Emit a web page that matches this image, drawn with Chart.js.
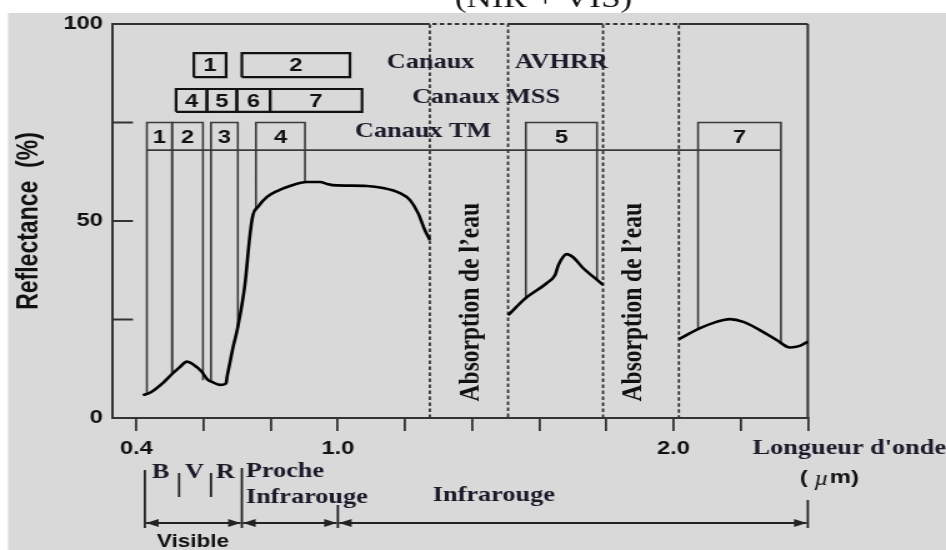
<!DOCTYPE html>
<html>
<head>
<meta charset="utf-8">
<script src="https://cdn.jsdelivr.net/npm/chart.js@4.4.1/dist/chart.umd.min.js"></script>
<style>
  html, body { margin: 0; padding: 0; background: #fff; overflow: hidden; }
  #chart { display: block; }
</style>
</head>
<body>
<!-- la figure d'origine est étirée en largeur : canvas de 757 px affiché sur 946 px -->
<canvas id="chart" width="757" height="550" style="width:946px;height:550px"></canvas>
<script>
// Courbe de réflectance de la végétation, en trois tronçons (coupée par les bandes d'absorption de l'eau)
const lambdaVisPir = [0.419, 0.440, 0.480, 0.505, 0.530, 0.550, 0.569, 0.594, 0.611, 0.629, 0.649, 0.667, 0.670, 0.679, 0.688, 0.700, 0.723, 0.738, 0.747, 0.762, 0.789, 0.819, 0.857, 0.908, 0.947, 0.968, 0.985, 1.087, 1.134, 1.185, 1.215, 1.239, 1.259, 1.274];
const reflVisPir = [5.8, 6.4, 9.0, 11.1, 13.0, 14.3, 13.6, 11.8, 9.8, 9.0, 8.4, 8.8, 10.5, 14.3, 18.1, 22.3, 33.8, 46.4, 51.5, 53.6, 56.1, 57.6, 58.9, 59.9, 59.9, 59.4, 59.1, 58.9, 58.4, 57.1, 55.3, 52.0, 47.7, 45.2];
const lambdaSwir1 = [1.507, 1.562, 1.622, 1.647, 1.657, 1.671, 1.682, 1.701, 1.731, 1.766, 1.790];
const reflSwir1 = [26.1, 30.6, 34.2, 36.3, 38.8, 40.9, 41.6, 40.8, 38.0, 35.5, 33.8];
const lambdaSwir2 = [2.016, 2.079, 2.128, 2.168, 2.208, 2.257, 2.307, 2.347, 2.376, 2.400];
const reflSwir2 = [20.0, 22.8, 24.4, 25.1, 24.4, 22.3, 19.8, 17.9, 18.3, 19.4];

// Canaux TM (les traits verticaux descendent jusqu'a la courbe)
const tmNames = ['1', '2', '3', '4', '5', '7'];
const tmStart = [0.431, 0.506, 0.622, 0.756, 1.560, 2.073];
const tmEnd = [0.506, 0.598, 0.702, 0.902, 1.772, 2.320];
const tmFootStart = [6.1, 11.2, 9.2, 53.0, 30.5, 22.7];
const tmFootEnd = [11.2, 9.6, 23.0, 60.0, 35.3, 19.3];
const tmRange = [68, 75];

// Canaux AVHRR et MSS
const avhrrNames = ['1', '2'];
const avhrrStart = [0.571, 0.714];
const avhrrEnd = [0.667, 1.036];
const avhrrRange = [86.5, 92.6];
const mssNames = ['4', '5', '6', '7'];
const mssStart = [0.518, 0.610, 0.699, 0.798];
const mssEnd = [0.610, 0.699, 0.798, 1.072];
const mssRange = [77.7, 83.5];

// Bandes d'absorption de l'eau
const waterStart = [1.274, 1.790];
const waterEnd = [1.507, 2.016];

// Axes
const xTickValues = [0.4, 0.6, 0.8, 1.0, 1.2, 1.4, 1.6, 1.8, 2.0, 2.2, 2.4];
const xLabelValues = [0.4, 1.0, 2.0];
const xLabelTexts = ['0.4', '1.0', '2.0'];
const yTickValues = [0, 25, 50, 75, 100];
const yLabelValues = [0, 50, 100];
const yLabelTexts = ['0', '50', '100'];
const yInnerTicks = [25, 50, 75];

// Domaines spectraux sous l'axe
const domainLimits = [0.425, 0.714, 1.0, 2.4];
const colourLimits = [0.527, 0.622];

const SERIF = '"Liberation Serif", "Times New Roman", serif';
const SANS = '"Liberation Sans", Arial, sans-serif';
const INK = '#1a1a2a';

function pts(xs, ys) {
  return xs.map((x, i) => ({ x: x, y: ys[i] }));
}
function rect(x0, x1, y0, y1) {
  return [{ x: x0, y: y0 }, { x: x0, y: y1 }, { x: x1, y: y1 }, { x: x1, y: y0 }, { x: x0, y: y0 }];
}
function lineSet(data, color, width, dash) {
  return {
    data: data, showLine: true, borderColor: color, borderWidth: width,
    borderDash: dash || [], pointRadius: 0, fill: false, clip: false
  };
}

const datasets = [];
// courbe (en premier pour qu'elle soit dessinée au-dessus)
[[lambdaVisPir, reflVisPir], [lambdaSwir1, reflSwir1], [lambdaSwir2, reflSwir2]].forEach(s => {
  const d = lineSet(pts(s[0], s[1]), '#000', 2.6);
  d.cubicInterpolationMode = 'monotone';
  datasets.push(d);
});
tmNames.forEach((n, i) => {
  datasets.push(lineSet([
    { x: tmStart[i], y: tmFootStart[i] }, { x: tmStart[i], y: tmRange[1] },
    { x: tmEnd[i], y: tmRange[1] }, { x: tmEnd[i], y: tmFootEnd[i] }
  ], '#3a3a3a', 1.6));
});
datasets.push(lineSet([{ x: tmStart[0], y: tmRange[0] }, { x: tmEnd[tmEnd.length - 1], y: tmRange[0] }], '#3a3a3a', 1.6));
avhrrNames.forEach((n, i) => datasets.push(lineSet(rect(avhrrStart[i], avhrrEnd[i], avhrrRange[0], avhrrRange[1]), '#111', 2.2)));
mssNames.forEach((n, i) => datasets.push(lineSet(rect(mssStart[i], mssEnd[i], mssRange[0], mssRange[1]), '#111', 2.2)));
waterStart.forEach((s, i) => {
  datasets.push(lineSet([{ x: s, y: 0 }, { x: s, y: 100 }, { x: waterEnd[i], y: 100 }, { x: waterEnd[i], y: 0 }], '#333', 1.8, [3.5, 2.5]));
});

function txt(ctx, s, x, y, font, color, align) {
  ctx.font = font;
  ctx.fillStyle = color;
  ctx.textAlign = align || 'left';
  ctx.textBaseline = 'middle';
  ctx.fillText(s, x, y);
}
function head(ctx, x, y, dir) {
  ctx.beginPath();
  ctx.moveTo(x, y);
  ctx.lineTo(x - dir * 10, y - 4);
  ctx.lineTo(x - dir * 10, y + 4);
  ctx.closePath();
  ctx.fill();
}
function seg(ctx, x0, y0, x1, y1) {
  ctx.beginPath();
  ctx.moveTo(x0, y0);
  ctx.lineTo(x1, y1);
  ctx.stroke();
}

const decor = {
  id: 'decor',
  beforeDraw(chart) {
    const ctx = chart.ctx;
    ctx.save();
    ctx.fillStyle = '#fff';
    ctx.fillRect(0, 0, chart.width, chart.height);
    // dénominateur de la formule au-dessus, coupé par le bord de l'image
    ctx.fillStyle = '#111';
    ctx.font = '28px ' + SERIF;
    ctx.textBaseline = 'alphabetic';
    ctx.textAlign = 'left';
    ctx.fillText('(NIR + VIS)', 364, 7);
    ctx.fillStyle = '#d9d9d9';
    ctx.fillRect(6.4, 13, chart.width, chart.height);
    ctx.restore();
  },
  beforeDatasetsDraw(chart) {
    const { ctx, chartArea: a, scales: { x, y } } = chart;
    ctx.save();
    ctx.strokeStyle = '#333';
    ctx.lineWidth = 2;
    // cadre haut (interrompu par les bandes en pointillés) et droit
    let from = a.left;
    waterStart.forEach((s, i) => {
      seg(ctx, from, a.top, x.getPixelForValue(s), a.top);
      from = x.getPixelForValue(waterEnd[i]);
    });
    seg(ctx, from, a.top, a.right, a.top);
    seg(ctx, a.right, a.top, a.right, a.bottom);
    // graduations intérieures de l'axe Y
    yInnerTicks.forEach(v => {
      const py = y.getPixelForValue(v);
      seg(ctx, a.left, py, a.left + 16, py);
    });
    ctx.restore();
  },
  afterDatasetsDraw(chart) {
    const { ctx, scales: { x, y } } = chart;
    const X = v => x.getPixelForValue(v);
    const Y = v => y.getPixelForValue(v);
    ctx.save();

    // numéros des canaux
    const numFont = 'bold 19px ' + SANS;
    tmNames.forEach((n, i) => txt(ctx, n, (X(tmStart[i]) + X(tmEnd[i])) / 2, (Y(tmRange[0]) + Y(tmRange[1])) / 2 + 1, numFont, '#111', 'center'));
    avhrrNames.forEach((n, i) => txt(ctx, n, (X(avhrrStart[i]) + X(avhrrEnd[i])) / 2, (Y(avhrrRange[0]) + Y(avhrrRange[1])) / 2 + 1, numFont, '#111', 'center'));
    mssNames.forEach((n, i) => txt(ctx, n, (X(mssStart[i]) + X(mssEnd[i])) / 2, (Y(mssRange[0]) + Y(mssRange[1])) / 2 + 1, numFont, '#111', 'center'));

    const serifB = 'bold 21px ' + SERIF;
    txt(ctx, 'Canaux', X(1.146), Y(90.1), serifB, INK);
    txt(ctx, 'AVHRR', X(1.5275), Y(90.1), serifB, INK);
    txt(ctx, 'Canaux MSS', X(1.2207), Y(81.2), serifB, INK);
    txt(ctx, 'Canaux TM', X(1.051), Y(72.8), serifB, INK);

    // textes verticaux des bandes d'absorption
    [1.396, 1.882].forEach(v => {
      ctx.save();
      ctx.translate(X(v), Y(29.4));
      ctx.rotate(-Math.PI / 2);
      txt(ctx, "Absorption de l\u2019eau", 0, 0, 'bold 23.5px ' + SERIF, '#111', 'center');
      ctx.restore();
    });

    // domaines spectraux sous l'axe
    ctx.strokeStyle = '#222';
    ctx.fillStyle = '#222';
    ctx.lineWidth = 1.8;
    const d = domainLimits.map(X);
    seg(ctx, d[0], 470, d[0], 528);
    seg(ctx, d[1], 468, d[1], 528);
    seg(ctx, d[2], 505, d[2], 528);
    seg(ctx, d[3], 500, d[3], 528);
    colourLimits.forEach(v => seg(ctx, X(v), 473, X(v), 497));
    for (let i = 0; i < d.length - 1; i++) {
      seg(ctx, d[i] + 1, 523, d[i + 1] - 1, 523);
      head(ctx, d[i] + 1, 523, -1);
      head(ctx, d[i + 1] - 1, 523, 1);
    }
    txt(ctx, 'B', X(0.446), 473, serifB, INK);
    txt(ctx, 'V', X(0.5445), 473, serifB, INK);
    txt(ctx, 'R', X(0.6368), 473, serifB, INK);
    txt(ctx, 'Proche', X(0.726), 472, serifB, INK);
    txt(ctx, 'Infrarouge', X(0.726), 498, serifB, INK);
    txt(ctx, 'Infrarouge', X(1.283), 496, serifB, INK);
    txt(ctx, 'Visible', X(0.568), 542, 'bold 18px ' + SANS, '#111', 'center');
    txt(ctx, "Longueur d'onde", X(2.236), 449, serifB, INK);

    // ( µm)
    let cx = X(2.376);
    const sansB = 'bold 19px ' + SANS;
    txt(ctx, '( ', cx, 478, sansB, '#111');
    cx += ctx.measureText('( ').width;
    txt(ctx, '\u00b5', cx, 480, 'italic 20px ' + SERIF, '#111');
    cx += ctx.measureText('\u00b5').width + 1;
    txt(ctx, 'm)', cx, 478, sansB, '#111');
    ctx.restore();
  }
};

function labelFor(values, texts) {
  return v => {
    const i = values.findIndex(t => Math.abs(t - v) < 1e-6);
    return i < 0 ? '' : texts[i];
  };
}

const chart = new Chart(document.getElementById('chart').getContext('2d'), {
  type: 'scatter',
  data: { datasets: datasets },
  options: {
    responsive: false,
    animation: false,
    events: [],
    layout: { padding: { left: 0, top: 24, right: 110.6, bottom: 0 } },
    plugins: { legend: { display: false }, tooltip: { enabled: false } },
    scales: {
      x: {
        type: 'linear', min: 0.33, max: 2.4,
        afterBuildTicks: s => { s.ticks = xTickValues.map(v => ({ value: v })); },
        afterFit: s => { s.height = 132; },
        grid: { drawOnChartArea: false, drawTicks: true, tickLength: 13, color: '#333', lineWidth: 1.8 },
        border: { display: true, color: '#333', width: 2 },
        ticks: {
          padding: 6, color: '#111', autoSkip: false, maxRotation: 0,
          font: { family: SANS, size: 19, weight: 'bold' },
          callback: labelFor(xLabelValues, xLabelTexts)
        }
      },
      y: {
        type: 'linear', min: 0, max: 100,
        afterBuildTicks: s => { s.ticks = yTickValues.map(v => ({ value: v })); },
        afterFit: s => { s.width = 90.4; },
        grid: { drawOnChartArea: false, drawTicks: false },
        border: { display: true, color: '#333', width: 2 },
        ticks: {
          padding: 8, color: '#111',
          font: { family: SANS, size: 19, weight: 'bold' },
          callback: labelFor(yLabelValues, yLabelTexts)
        },
        title: {
          display: true, text: 'Reflectance  (%)', color: '#111',
          font: { family: SANS, size: 23, weight: 'bold' },
          padding: { top: 10, bottom: 0 }
        }
      }
    }
  },
  plugins: [decor]
});
</script>
</body>
</html>
